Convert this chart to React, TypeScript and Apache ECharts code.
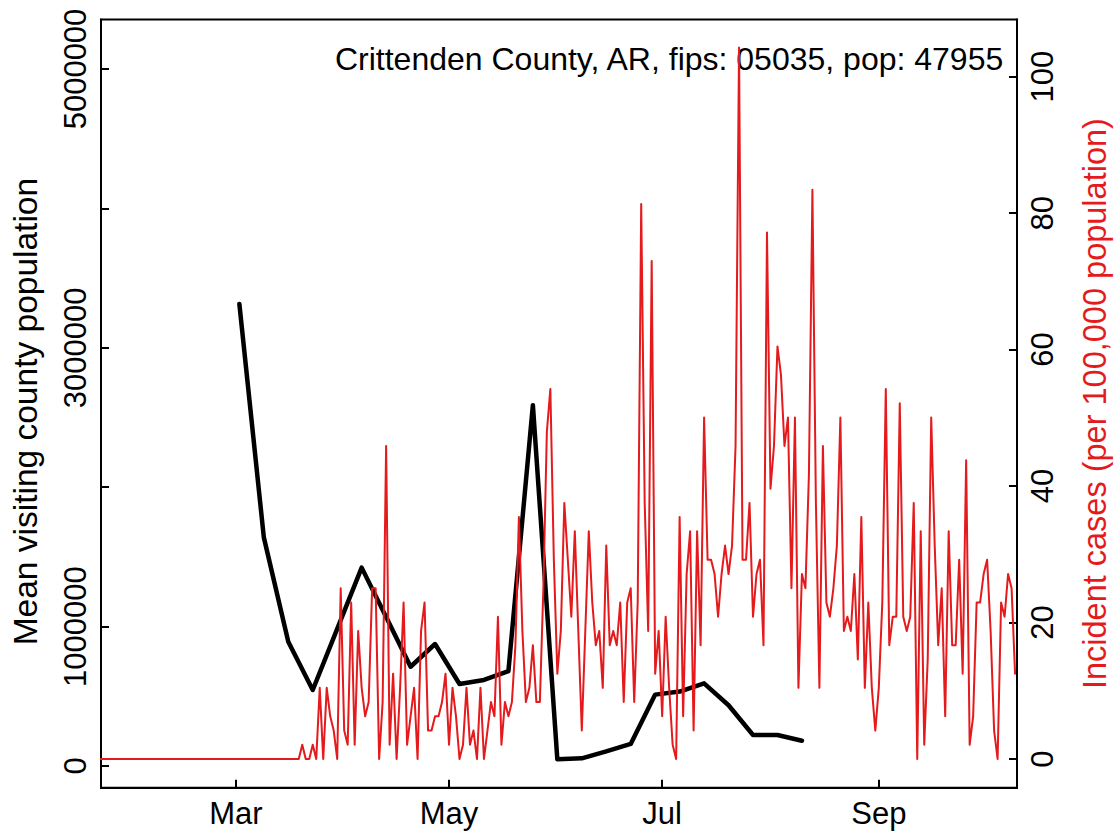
import React, { useEffect, useRef } from "react";
import * as echarts from "echarts";

const FONT = "'Liberation Sans', Arial, Helvetica, sans-serif";
const RED = "#E41A1C";

const titleText = "Crittenden County, AR, fips: 05035, pop: 47955";
const population = 47955;

// daily incident case counts starting 2020-01-22
const caseStartDate = "2020-01-22";
const incidentCases = [
  0, 0, 0, 0, 0, 0, 0, 0, 0, 0,
  0, 0, 0, 0, 0, 0, 0, 0, 0, 0,
  0, 0, 0, 0, 0, 0, 0, 0, 0, 0,
  0, 0, 0, 0, 0, 0, 0, 0, 0, 0,
  0, 0, 0, 0, 0, 0, 0, 0, 0, 0,
  0, 0, 0, 0, 0, 0, 0, 0,
  1, 0, 0, 1, 0, 5, 0, 5, 3, 2,
  0, 12, 2, 1, 11, 1, 9, 5, 3, 4,
  12, 12, 0, 4, 22, 1, 6, 0, 5, 11,
  1, 3, 5, 0, 9, 11, 2, 2, 3, 3,
  4, 6, 1, 5, 3, 0, 1, 5, 1, 2,
  0, 5, 0, 2, 4, 3, 10, 1, 4, 3,
  4, 8, 17, 9, 4, 5, 8, 4, 4, 12,
  23, 26, 14, 6, 9, 18, 14, 10, 16, 9,
  2, 9, 16, 11, 8, 9, 5, 15, 8, 9,
  8, 11, 4, 11, 12, 4, 11, 39, 18, 9,
  35, 6, 9, 3, 10, 5, 1, 0, 17, 3,
  13, 16, 2, 16, 8, 24, 14, 14, 13, 10,
  13, 15, 13, 15, 22, 50, 14, 14, 18, 10,
  13, 14, 8, 37, 19, 22, 29, 27, 22, 24,
  12, 24, 5, 13, 12, 20, 40, 18, 5, 22,
  11, 10, 12, 15, 24, 9, 10, 9, 13, 7,
  17, 5, 11, 5, 2, 5, 11, 26, 8, 10,
  10, 25, 10, 9, 10, 18, 0, 16, 1, 7,
  24, 15, 8, 12, 3, 16, 8, 8, 14, 6,
  21, 1, 3, 11, 11, 13, 14, 9, 2, 0,
  11, 10, 13, 12, 6,
];

// weekly mean visiting county population
const visitDates = [
  "2020-03-02", "2020-03-09", "2020-03-16", "2020-03-23", "2020-03-30",
  "2020-04-06", "2020-04-13", "2020-04-20", "2020-04-27", "2020-05-04",
  "2020-05-11", "2020-05-18", "2020-05-25", "2020-06-01", "2020-06-08",
  "2020-06-15", "2020-06-22", "2020-06-29", "2020-07-06", "2020-07-13",
  "2020-07-20", "2020-07-27", "2020-08-03", "2020-08-10",
];
const visitPop = [
  3314000, 1640000, 892000, 545000, 984000,
  1423000, 1068000, 712000, 875000, 588000,
  617000, 681000, 2588000, 48000, 55000,
  105000, 158000, 512000, 534000, 593000,
  436000, 222000, 222000, 181000,
];

const monthTickDates = ["2020-03-01", "2020-05-01", "2020-07-01", "2020-09-01"];
const monthTickLabels = ["Mar", "May", "Jul", "Sep"];
const xRangeDates = ["2020-01-22", "2020-10-10"];

const leftTicks = [0, 1000000, 2000000, 3000000, 4000000, 5000000];
const leftLabels = [0, 1000000, 3000000, 5000000];
const rightTicks = [0, 20, 40, 60, 80, 100];

const DAY = 86400000;
const toDay = (s: string) => {
  const [y, m, d] = s.split("-").map(Number);
  return (Date.UTC(y, m - 1, d) - Date.UTC(2020, 0, 1)) / DAY;
};

export default function App() {
  const ref = useRef<HTMLDivElement>(null);
  useEffect(() => {
    const chart = echarts.init(ref.current!, null, { renderer: "svg" });
    const start = toDay(caseStartDate);
    const redData = incidentCases.map((c, i) => [start + i, (c / population) * 100000]);
    const blackData = visitDates.map((d, i) => [toDay(d), visitPop[i]]);
    const monthDays = monthTickDates.map(toDay);
    const labelStyle = { fontSize: 31, color: "#000", fontFamily: FONT };
    const axisLine = { show: true, onZero: false, lineStyle: { color: "#000", width: 2 } };
    const tick = { show: true, inside: true, length: 8, lineStyle: { color: "#000", width: 2 } };

    chart.setOption({
      animation: false,
      backgroundColor: "#fff",
      textStyle: { fontFamily: FONT },
      title: {
        text: titleText,
        right: 114,
        top: 43,
        padding: 0,
        z: 1,
        textStyle: { fontSize: 32, fontWeight: "normal", color: "#000", fontFamily: FONT, lineHeight: 32 },
      },
      grid: {
        left: 99.3,
        right: 98.3,
        top: 19.5,
        bottom: 48.3,
        show: true,
        borderColor: "#000",
        borderWidth: 2,
        backgroundColor: "transparent",
      },
      xAxis: {
        type: "value",
        min: toDay(xRangeDates[0]) + 0.4,
        max: toDay(xRangeDates[1]) + 0.55,
        axisLine,
        axisTick: { ...tick, customValues: monthDays },
        axisLabel: {
          ...labelStyle,
          margin: 10,
          customValues: monthDays,
          formatter: (v: number) => {
            const i = monthDays.findIndex((d) => Math.abs(d - v) < 0.01);
            return i >= 0 ? monthTickLabels[i] : "";
          },
        },
        splitLine: { show: false },
      },
      yAxis: [
        {
          type: "value",
          position: "left",
          min: -155700,
          max: 5355000,
          axisLine,
          axisTick: { ...tick, customValues: leftTicks },
          axisLabel: {
            ...labelStyle,
            rotate: 90,
            margin: 10,
            customValues: leftLabels,
            formatter: (v: number) => String(v),
          },
          splitLine: { show: false },
          name: "Mean visiting county population",
          nameLocation: "middle",
          nameRotate: 90,
          nameGap: 59,
          nameMoveOverlap: false,
          nameTextStyle: { ...labelStyle, fontSize: 33.5, padding: [0, 16, 0, 0] },
        },
        {
          type: "value",
          position: "right",
          min: -4.206,
          max: 108.38,
          axisLine,
          axisTick: { ...tick, customValues: rightTicks },
          axisLabel: {
            ...labelStyle,
            rotate: 90,
            margin: 10,
            customValues: rightTicks,
            formatter: (v: number) => String(v),
          },
          splitLine: { show: false },
          name: "Incident cases (per 100,000 population)",
          nameLocation: "middle",
          nameRotate: 90,
          nameGap: 61,
          nameTextStyle: { ...labelStyle, fontSize: 32.5, color: RED },
        },
      ],
      series: [
        {
          type: "line",
          yAxisIndex: 0,
          data: blackData,
          symbol: "none",
          z: 2,
          lineStyle: { color: "#000", width: 4.5, join: "round", cap: "round" },
        },
        {
          type: "line",
          yAxisIndex: 1,
          data: redData,
          symbol: "none",
          z: 3,
          lineStyle: { color: RED, width: 2, join: "round", cap: "round" },
        },
      ],
    });
    return () => chart.dispose();
  }, []);
  return (
    <div
      ref={ref}
      style={{ position: "absolute", left: 0, top: 0, width: 1119, height: 836, background: "#fff" }}
    />
  );
}
